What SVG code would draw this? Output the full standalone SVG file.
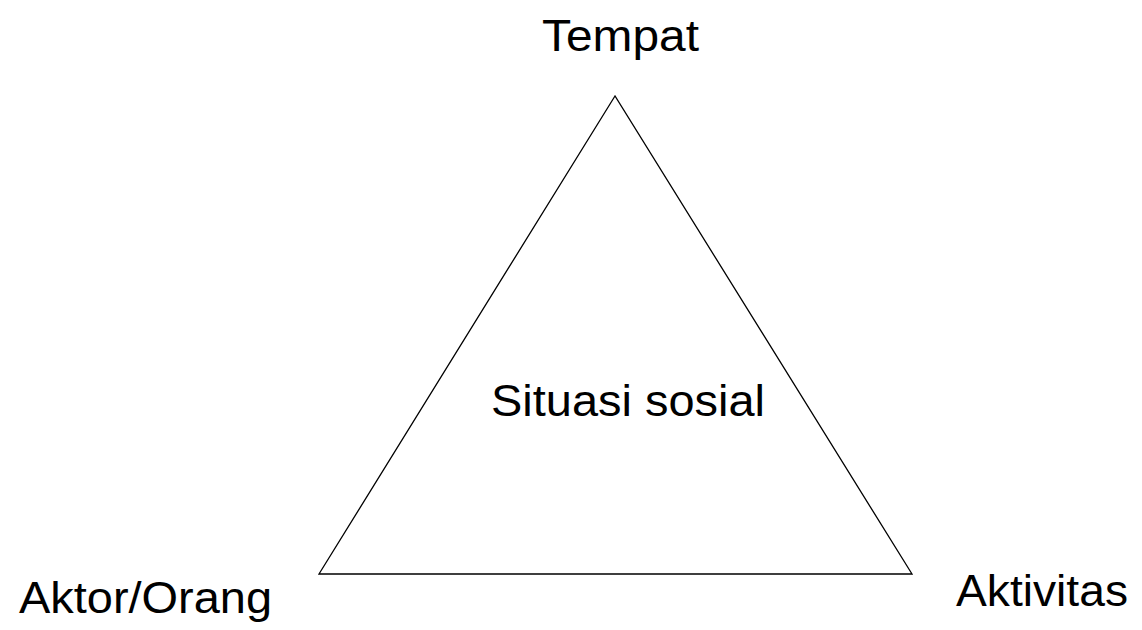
<svg xmlns="http://www.w3.org/2000/svg" width="1142" height="630" viewBox="0 0 1142 630">
<style>
text{font-family:"Liberation Sans",Arial,sans-serif;font-size:45px;fill:#000}
.shape{fill:none;stroke:#000;stroke-width:1.3}
</style>
<rect width="1142" height="630" fill="#fff"/>
<g id="triangle"><polygon class="shape" points="615,96 319,574 912,574"/></g>
<g id="tempat"><text x="542" y="51" textLength="157" lengthAdjust="spacingAndGlyphs">Tempat</text></g>
<g id="situasi"><text x="491" y="416" textLength="274" lengthAdjust="spacingAndGlyphs">Situasi sosial</text></g>
<g id="aktor"><text x="19" y="613" textLength="253" lengthAdjust="spacingAndGlyphs">Aktor/Orang</text></g>
<g id="aktivitas"><text x="956" y="606" textLength="172" lengthAdjust="spacingAndGlyphs">Aktivitas</text></g>
<g id="connectors"></g>
</svg>
